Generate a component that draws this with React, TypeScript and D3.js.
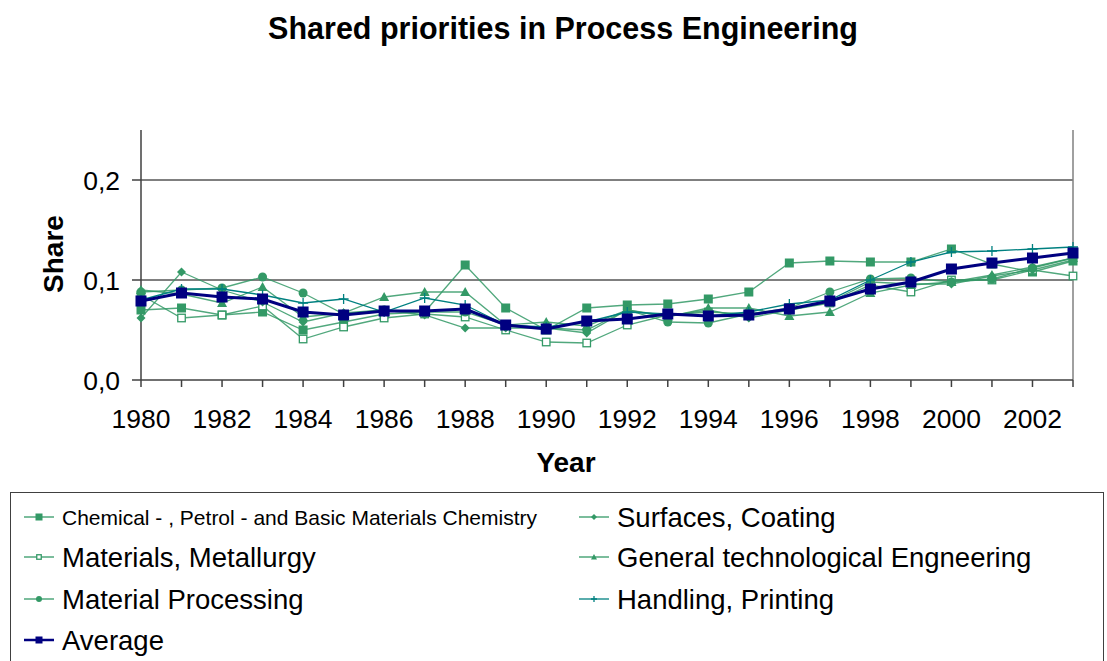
import * as d3 from 'd3';
import React from 'react';

const years = d3.range(1980, 2004);
const yTicks = [0, 0.1, 0.2];
const xTickLabels = [1980, 1982, 1984, 1986, 1988, 1990, 1992, 1994, 1996, 1998, 2000, 2002];

const chemical = [0.070, 0.072, 0.065, 0.068, 0.050, 0.058, 0.066, 0.068, 0.115, 0.072, 0.050, 0.072, 0.075, 0.076, 0.081, 0.088, 0.117, 0.119, 0.118, 0.118, 0.131, 0.116, 0.108, 0.119];
const materials = [0.085, 0.062, 0.065, 0.074, 0.041, 0.053, 0.062, 0.066, 0.063, 0.050, 0.038, 0.037, 0.055, 0.065, 0.068, 0.066, 0.070, 0.077, 0.095, 0.088, 0.100, 0.100, 0.110, 0.104];
const processing = [0.088, 0.090, 0.092, 0.103, 0.087, 0.066, 0.070, 0.068, 0.068, 0.055, 0.052, 0.050, 0.070, 0.058, 0.057, 0.066, 0.072, 0.088, 0.101, 0.102, 0.098, 0.101, 0.112, 0.122];
const surfaces = [0.062, 0.108, 0.090, 0.078, 0.058, 0.067, 0.070, 0.065, 0.052, 0.052, 0.052, 0.047, 0.070, 0.064, 0.070, 0.062, 0.070, 0.078, 0.098, 0.096, 0.096, 0.104, 0.110, 0.120];
const general = [0.090, 0.086, 0.077, 0.093, 0.063, 0.067, 0.083, 0.088, 0.088, 0.055, 0.058, 0.054, 0.070, 0.063, 0.072, 0.072, 0.064, 0.068, 0.087, 0.095, 0.098, 0.105, 0.113, 0.122];
const handling = [0.080, 0.091, 0.091, 0.085, 0.077, 0.081, 0.068, 0.082, 0.075, 0.055, 0.053, 0.058, 0.068, 0.066, 0.064, 0.068, 0.076, 0.080, 0.100, 0.118, 0.128, 0.129, 0.131, 0.133];
const average = [0.079, 0.087, 0.083, 0.081, 0.068, 0.065, 0.069, 0.069, 0.071, 0.055, 0.051, 0.059, 0.061, 0.066, 0.064, 0.065, 0.071, 0.079, 0.091, 0.098, 0.111, 0.117, 0.122, 0.127];

type Marker = 'square' | 'open' | 'circle' | 'diamond' | 'triangle' | 'plus';

const series: { name: string; values: number[]; color: string; marker: Marker; width: number; size: number; font: number }[] = [
  { name: 'Chemical - , Petrol - and Basic Materials Chemistry', values: chemical, color: '#339966', marker: 'square', width: 1.3, size: 9, font: 21 },
  { name: 'Materials, Metallurgy', values: materials, color: '#339966', marker: 'open', width: 1.3, size: 9, font: 27.5 },
  { name: 'Material Processing', values: processing, color: '#339966', marker: 'circle', width: 1.3, size: 9, font: 27.5 },
  { name: 'Surfaces, Coating', values: surfaces, color: '#339966', marker: 'diamond', width: 1.3, size: 9, font: 27.5 },
  { name: 'General technological Engneering', values: general, color: '#339966', marker: 'triangle', width: 1.3, size: 10, font: 27.5 },
  { name: 'Handling, Printing', values: handling, color: '#008080', marker: 'plus', width: 1.3, size: 10, font: 27.5 },
  { name: 'Average', values: average, color: '#000080', marker: 'square', width: 3, size: 11, font: 27.5 },
];

// [series index, legend column]
const legendOrder = [
  [0, 0], [1, 0], [2, 0], [6, 0],
  [3, 1], [4, 1], [5, 1],
];

const drawMarker = (m: Marker, x: number, y: number, s: number, color: string, key: string) => {
  const h = s / 2;
  switch (m) {
    case 'square':
      return <rect key={key} x={x - h} y={y - h} width={s} height={s} fill={color} />;
    case 'open':
      return <rect key={key} x={x - h + 0.75} y={y - h + 0.75} width={s - 1.5} height={s - 1.5} fill="white" stroke={color} strokeWidth={1.3} />;
    case 'circle':
      return <circle key={key} cx={x} cy={y} r={h} fill={color} />;
    case 'diamond':
      return <path key={key} d={`M${x},${y - h}L${x + h},${y}L${x},${y + h}L${x - h},${y}Z`} fill={color} />;
    case 'triangle':
      return <path key={key} d={`M${x},${y - h}L${x + h},${y + h * 0.8}L${x - h},${y + h * 0.8}Z`} fill={color} />;
    case 'plus':
      return <path key={key} d={`M${x - h},${y}H${x + h}M${x},${y - h}V${y + h}`} stroke={color} strokeWidth={1.3} />;
  }
};

const App = () => {
  const margin = { left: 141, right: 1073, top: 130, bottom: 380 };
  const x = d3.scaleLinear().domain([1980, 2003]).range([margin.left, margin.right]);
  const y = d3.scaleLinear().domain([0, 0.25]).range([margin.bottom, margin.top]);
  const line = d3.line<number>().x((_, i) => x(years[i])).y(d => y(d));
  const font = '"Liberation Sans", Arial, sans-serif';

  return (
    <svg width={1107} height={661} style={{ position: 'absolute', left: 0, top: 0, background: 'white' }} fontFamily={font}>
      <text x={563} y={39} textAnchor="middle" fontSize={30.5} fontWeight="bold">Shared priorities in Process Engineering</text>

      {yTicks.filter(t => t > 0).map(t => (
        <line key={t} x1={margin.left} x2={margin.right} y1={y(t)} y2={y(t)} stroke="black" strokeWidth={1} />
      ))}
      <line x1={margin.right} x2={margin.right} y1={margin.top} y2={margin.bottom} stroke="#808080" strokeWidth={1.5} />
      <line x1={margin.left} x2={margin.left} y1={margin.top} y2={margin.bottom} stroke="#404040" strokeWidth={1.5} />
      <line x1={margin.left} x2={margin.right} y1={margin.bottom} y2={margin.bottom} stroke="#404040" strokeWidth={1.5} />

      {yTicks.map(t => (
        <g key={t}>
          <line x1={margin.left - 9} x2={margin.left} y1={y(t)} y2={y(t)} stroke="#404040" strokeWidth={1.5} />
          <text x={120} y={y(t) + 10} textAnchor="end" fontSize={26.5}>{d3.format('.1f')(t).replace('.', ',')}</text>
        </g>
      ))}
      {years.map(yr => (
        <line key={yr} x1={x(yr)} x2={x(yr)} y1={margin.bottom} y2={margin.bottom + 7} stroke="#404040" strokeWidth={1.5} />
      ))}
      {xTickLabels.map(yr => (
        <text key={yr} x={x(yr)} y={428} textAnchor="middle" fontSize={26.5}>{yr}</text>
      ))}
      <text x={566} y={472} textAnchor="middle" fontSize={28} fontWeight="bold">Year</text>
      <text transform={`translate(63,254) rotate(-90)`} textAnchor="middle" fontSize={28} fontWeight="bold">Share</text>

      {series.map(s => (
        <g key={s.name}>
          <path d={line(s.values) ?? ''} fill="none" stroke={s.color} strokeWidth={s.width} strokeOpacity={s.color === '#339966' ? 0.85 : 1} />
          {s.values.map((v, i) => drawMarker(s.marker, x(years[i]), y(v), s.size, s.color, `${s.name}-${i}`))}
        </g>
      ))}

      <rect x={10.5} y={492.5} width={1093} height={180} fill="none" stroke="#404040" strokeWidth={1} />
      {legendOrder.map(([si, col], k) => {
        const s = series[si];
        const row = legendOrder.slice(0, k).filter(l => l[1] === col).length;
        const lx = col === 0 ? 24 : 579;
        const ly = [517, 557, 599, 640][row];
        return (
          <g key={s.name}>
            <line x1={lx} x2={lx + 30} y1={ly} y2={ly} stroke={s.color} strokeWidth={s.color === '#000080' ? 2.5 : 1.3} />
            {drawMarker(s.marker, lx + 15, ly, s.marker === 'square' ? 7 : 6, s.color, `lg-${k}`)}
            <text x={lx + 38} y={ly + (s.font < 24 ? 8 : 10)} fontSize={s.font}>{s.name}</text>
          </g>
        );
      })}
    </svg>
  );
};

export default App;
